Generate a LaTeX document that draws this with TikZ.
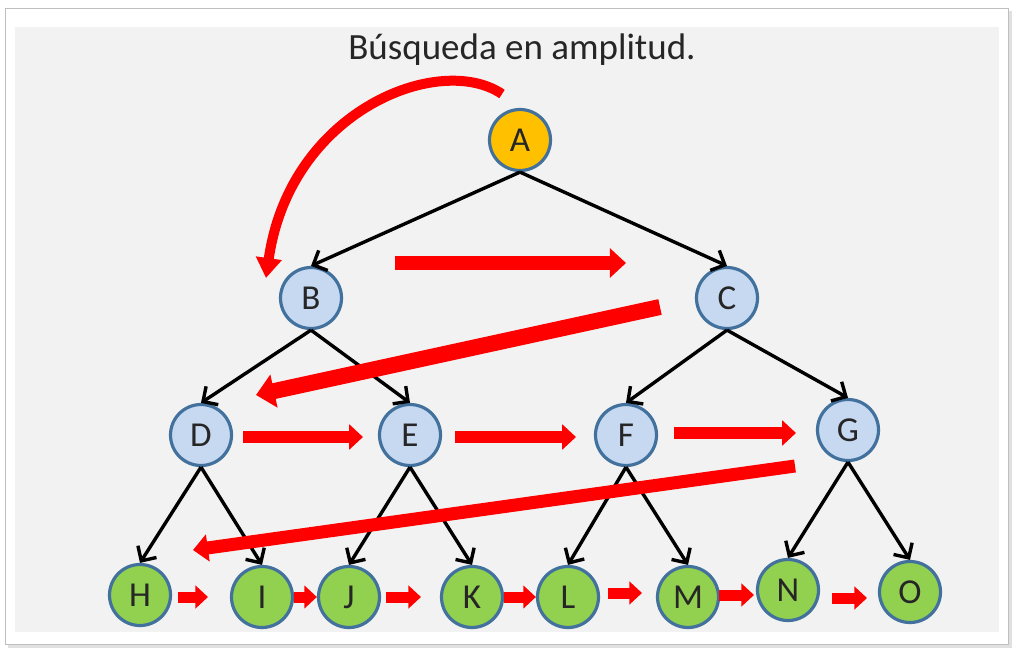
\documentclass[tikz,border=0pt]{standalone}
\usepackage{fontspec}
\setmainfont{Carlito}
\usetikzlibrary{arrows.meta}
\definecolor{panel}{HTML}{F2F2F2}
\definecolor{ring}{HTML}{41719C}
\definecolor{rootfill}{HTML}{FFC000}
\definecolor{midfill}{HTML}{C6D9F1}
\definecolor{leaffill}{HTML}{92D050}
\definecolor{flow}{HTML}{FF0000}
\tikzset{
  vertex/.style={circle, draw=ring, line width=3.2pt, minimum size=61pt, inner sep=0pt, font=\fontsize{35}{35}\selectfont, text=black!85},
  rootv/.style={vertex, fill=rootfill},
  midv/.style={vertex, fill=midfill},
  leafv/.style={vertex, fill=leaffill},
  edge/.style={line width=3.4pt, -{Straight Barb[length=11pt, width=22pt, line width=3.4pt]}},
  flowarrow/.style={draw=flow, line width=#1, -{Triangle[length=#1*1.15, width=#1*2.05]}},
  flowarrow/.default=12pt
}
\begin{document}
\begin{tikzpicture}[x=1pt, y=-1pt]
  \useasboundingbox (0,0) rectangle (1012,648);
  % frame with soft shadow and gray panel
  \fill[black!12] (8,11) rectangle (1012,648);
  \fill[white] (5,8) rectangle (1008,644);
  \draw[black!25, line width=0.8pt] (5,8) rectangle (1008,644);
  \fill[panel] (15,27) rectangle (999,632);

  \node[font=\fontsize{37}{37}\selectfont, text=black!85] (title) at (522,50) {Búsqueda en amplitud.};

  % tree nodes
  \node[rootv] (A) at (520,140) {A};
  \node[midv] (B) at (311,298) {B};
  \node[midv] (C) at (727,298) {C};
  \node[midv] (D) at (201,435) {D};
  \node[midv] (E) at (410,435) {E};
  \node[midv] (F) at (626,435) {F};
  \node[midv] (G) at (848,430) {G};
  \node[leafv] (H) at (140,595) {H};
  \node[leafv] (I) at (262,597) {I};
  \node[leafv] (J) at (349,597) {J};
  \node[leafv] (K) at (472,597) {K};
  \node[leafv] (L) at (568,597) {L};
  \node[leafv] (M) at (688,597) {M};
  \node[leafv] (N) at (788,590) {N};
  \node[leafv] (O) at (910,592) {O};

  % tree edges
  \foreach \p/\c in {A/B, A/C, B/D, B/E, C/F, C/G, D/H, D/I, E/J, E/K, F/L, F/M, G/N, G/O}
    \draw[edge] (\p.south) -- (\c.north);

  % breadth-first order
  \coordinate (s0) at (502,94);
  \coordinate (e0) at (266,278);
  \draw[draw=flow, line width=10pt, -{Triangle[length=20pt, width=25pt]}]
    (s0) .. controls (440,52) and (290,110) .. (e0);
  \coordinate (s1) at (395,263);
  \coordinate (e1) at (626,263);
  \draw[flowarrow=14pt] (s1) -- (e1);
  \coordinate (s2) at (660,307);
  \coordinate (e2) at (256,395);
  \draw[flowarrow=16pt] (s2) -- (e2);
  \coordinate (s3) at (243,437);
  \coordinate (e3) at (363,437);
  \draw[flowarrow=12pt] (s3) -- (e3);
  \coordinate (s4) at (455,437);
  \coordinate (e4) at (576,437);
  \draw[flowarrow=12pt] (s4) -- (e4);
  \coordinate (s5) at (674,433);
  \coordinate (e5) at (796,433);
  \draw[flowarrow=12pt] (s5) -- (e5);
  \coordinate (s6) at (795,466);
  \coordinate (e6) at (193,550);
  \draw[flowarrow=13pt] (s6) -- (e6);
  % leaf level
  \coordinate (s7) at (178,597);
  \coordinate (e7) at (208,597);
  \draw[flowarrow=11pt] (s7) -- (e7);
  \draw[flowarrow=11pt] (I.east) -- (J.west);
  \coordinate (s8) at (386,597);
  \coordinate (e8) at (421,597);
  \draw[flowarrow=11pt] (s8) -- (e8);
  \draw[flowarrow=11pt] (K.east) -- (L.west);
  \coordinate (s9) at (608,593);
  \coordinate (e9) at (642,593);
  \draw[flowarrow=11pt] (s9) -- (e9);
  \coordinate (s10) at (719,595);
  \coordinate (e10) at (754,595);
  \draw[flowarrow=11pt] (s10) -- (e10);
  \coordinate (s11) at (832,598);
  \coordinate (e11) at (867,598);
  \draw[flowarrow=11pt] (s11) -- (e11);
\end{tikzpicture}
\end{document}
